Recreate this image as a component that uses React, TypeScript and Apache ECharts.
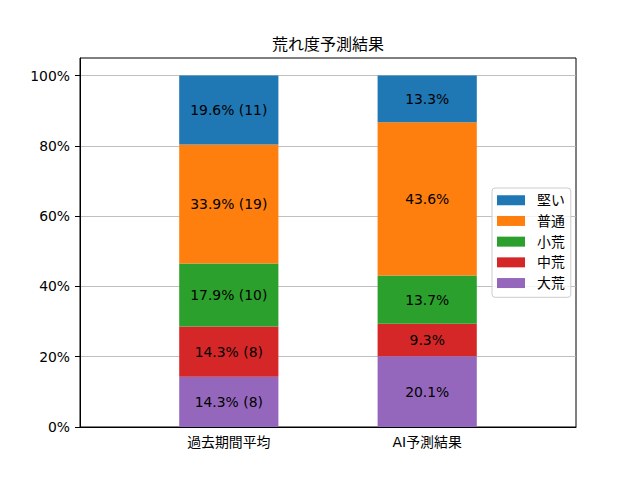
import React, { useEffect, useRef } from "react";
import * as echarts from "echarts";

const categories = ["過去期間平均", "AI予測結果"];
const seriesNames = ["大荒", "中荒", "小荒", "普通", "堅い"];
const pastPct = [14.3, 14.3, 17.9, 33.9, 19.6];
const pastCount = [8, 8, 10, 19, 11];
const aiPct = [20.1, 9.3, 13.7, 43.6, 13.3];
const colors = ["#9467bd", "#d62728", "#2ca02c", "#ff7f0e", "#1f77b4"];
const yTicks = [0, 20, 40, 60, 80, 100];

const FONT = "DejaVu Sans, Noto Sans CJK JP, sans-serif";
const FS = 13.9;

export default function App() {
  const ref = useRef<HTMLDivElement>(null);
  useEffect(() => {
    document.body.style.margin = "0";
    const chart = echarts.init(ref.current!, null, { renderer: "svg" });
    const padded = ["", categories[0], "", categories[1], ""];
    const series = seriesNames.map((name, i) => ({
      name,
      type: "bar",
      stack: "total",
      barWidth: "100%",
      itemStyle: { color: colors[i] },
      data: [null, pastPct[i], null, aiPct[i], null],
      label: {
        show: true,
        position: "inside",
        color: "#000",
        fontFamily: FONT,
        fontSize: FS,
        formatter: (p: any) =>
          p.dataIndex === 1
            ? `${pastPct[i]}% (${pastCount[i]})`
            : `${aiPct[i]}%`,
      },
    }));
    chart.setOption({
      animation: false,
      textStyle: { fontFamily: FONT },
      grid: {
        left: 80,
        right: 64,
        top: 58,
        bottom: 53,
        show: true,
        borderColor: "#000",
        borderWidth: 1,
        backgroundColor: "transparent",
      },
      graphic: [
        {
          type: "text",
          x: 328,
          y: 44,
          style: {
            text: "荒れ度予測結果",
            fontFamily: FONT,
            fontSize: 16,
            fill: "#000",
            textAlign: "center",
            textVerticalAlign: "middle",
          },
        },
      ],
      legend: {
        orient: "vertical",
        left: 492,
        top: 188,
        data: [...seriesNames].reverse(),
        itemWidth: 28,
        itemHeight: 10,
        itemGap: 6.2,
        icon: "rect",
        padding: [5, 6, 7, 5],
        borderColor: "#cccccc",
        borderWidth: 1,
        borderRadius: 3,
        backgroundColor: "rgba(255,255,255,0.8)",
        textStyle: {
          fontFamily: FONT,
          fontSize: FS,
          color: "#000",
          lineHeight: 14.5,
          padding: [0, 0, 0, 7],
        },
      },
      xAxis: {
        type: "category",
        data: padded,
        boundaryGap: true,
        axisLine: { lineStyle: { color: "#000", width: 1 } },
        axisTick: {
          alignWithLabel: true,
          length: 5,
          interval: (_i: number, v: string) => v !== "",
          lineStyle: { color: "#000" },
        },
        axisLabel: {
          interval: 0,
          margin: 8,
          color: "#000",
          fontFamily: FONT,
          fontSize: FS,
        },
        splitLine: { show: false },
      },
      yAxis: {
        type: "value",
        min: 0,
        max: 105,
        interval: 20,
        axisLine: { show: true, lineStyle: { color: "#000", width: 1 } },
        axisTick: {
          show: true,
          length: 5,
          customValues: yTicks,
          lineStyle: { color: "#000" },
        },
        axisLabel: {
          margin: 10,
          color: "#000",
          fontFamily: FONT,
          fontSize: FS,
          customValues: yTicks,
          formatter: (v: number) => (v > 100 ? "" : `${v}%`),
        },
        splitLine: { show: true, lineStyle: { color: "#b0b0b0", width: 0.8 } },
      },
      series,
    });
    return () => chart.dispose();
  }, []);
  return (
    <div
      ref={ref}
      style={{ width: 640, height: 480, position: "absolute", left: 0, top: 0 }}
    />
  );
}
